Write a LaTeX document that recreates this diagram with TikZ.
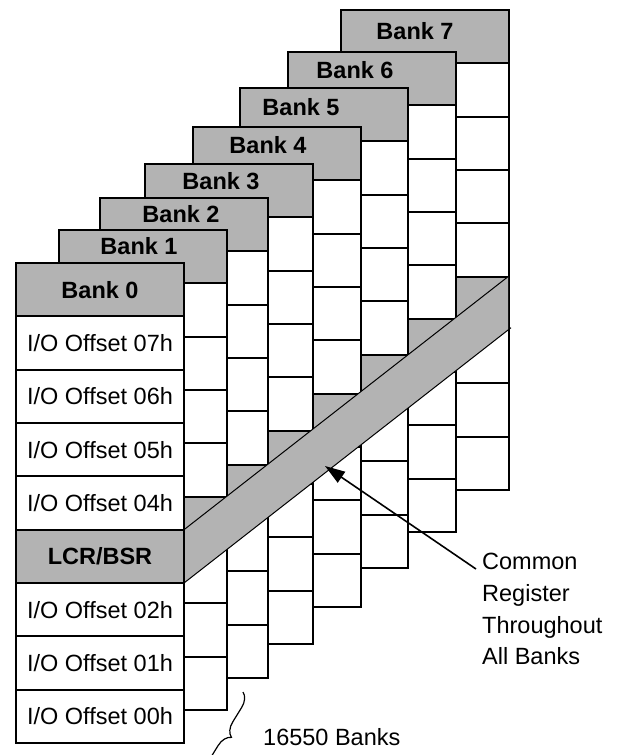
\documentclass[tikz,border=0pt]{standalone}
\usepackage{fontspec}
\setmainfont{Liberation Sans}
\usepackage{xcolor}
\definecolor{cinzaB}{RGB}{179,179,179}
\usepackage{tikz}
\usetikzlibrary{arrows.meta,calc,decorations.pathreplacing}

\begin{document}
\begin{tikzpicture}[x=1pt,y=-1pt,
    rotulo/.style={font=\fontsize{23.5}{31.7}\selectfont,inner sep=0pt},
    negrito/.style={rotulo,font=\fontsize{23.5}{31.7}\selectfont\bfseries},
    linha/.style={draw=black,line width=2pt},
    borda/.style={draw=black,line width=1pt},
    seta/.style={-{Triangle[length=20pt,width=13pt]},line width=1.6pt},
    chave/.style={decorate,decoration={brace,amplitude=14pt},line width=1.2pt}
    ]
    \useasboundingbox (0,0) rectangle (618,755);

    % Banks 7..1 (back to front)
    \foreach \k/\xe/\yt/\xt/\yl in {7/341/10/415/31, 6/288/52/355/70,
      5/240/88/301/107.5, 4/193/127/268/145.5, 3/145/164/221/181,
      2/100/198/181/214, 1/59/230/139/246.5} {
      \fill[white] (\xe,\yt) rectangle ++(168,480);
      \fill[cinzaB] (\xe,\yt) rectangle ++(168,53.333);
      \fill[cinzaB] (\xe,{\yt+266.667}) rectangle ++(168,53.333);
      \foreach \r in {1,...,8}
        \draw[linha] (\xe,{\yt+\r*53.333}) -- ++(168,0);
      \draw[linha] (\xe,\yt) rectangle ++(168,480);
      \node[negrito] (b\k) at (\xt,\yl) {Bank \k};
    }

    % Common register band
    \coordinate (fa) at (184,529.7);
    \coordinate (fb) at (508,276.7);
    \coordinate (fc) at (508,330);
    \coordinate (fd) at (184,583);
    \fill[cinzaB] (fa) -- (fb) -- (fc) -- (fd) -- cycle;
    \draw[borda] (fa) -- (fb);
    \draw[borda] (fd) -- ($(fc)+(3,-2.3)$);

    % Bank 0
    \fill[white] (16,263) rectangle ++(168,480);
    \fill[cinzaB] (16,263) rectangle ++(168,53.333);
    \fill[cinzaB] (16,529.667) rectangle ++(168,53.333);
    \foreach \r in {1,...,8}
      \draw[linha] (16,{263+\r*53.333}) -- ++(168,0);
    \draw[linha] (16,263) rectangle ++(168,480);
    \node[negrito] (b0) at (100,290) {Bank 0};
    \foreach \r/\txt in {1/07h,2/06h,3/05h,4/04h,6/02h,7/01h,8/00h}
      \node[rotulo] (o\r) at (100,{263+(\r+0.5)*53.333}) {I/O Offset \txt};
    \node[negrito] (lcr) at (100,556.3) {LCR/BSR};

    % Label and pointer
    \node[rotulo,align=left,anchor=north west] (comum) at (482,553)
      {Common\\Register\\Throughout\\All Banks};
    \coordinate (cauda) at (476,569);
    \coordinate (ponta) at (325,466);
    \draw[seta] (cauda) -- (ponta);

    % Brace
    \coordinate (chaveA) at (243,692);
    \coordinate (chaveB) at (196,768);
    \draw[chave] (chaveA) -- (chaveB);
    \node[rotulo,anchor=west] (bancos) at (263,737) {16550 Banks};
  \end{tikzpicture}
\end{document}
